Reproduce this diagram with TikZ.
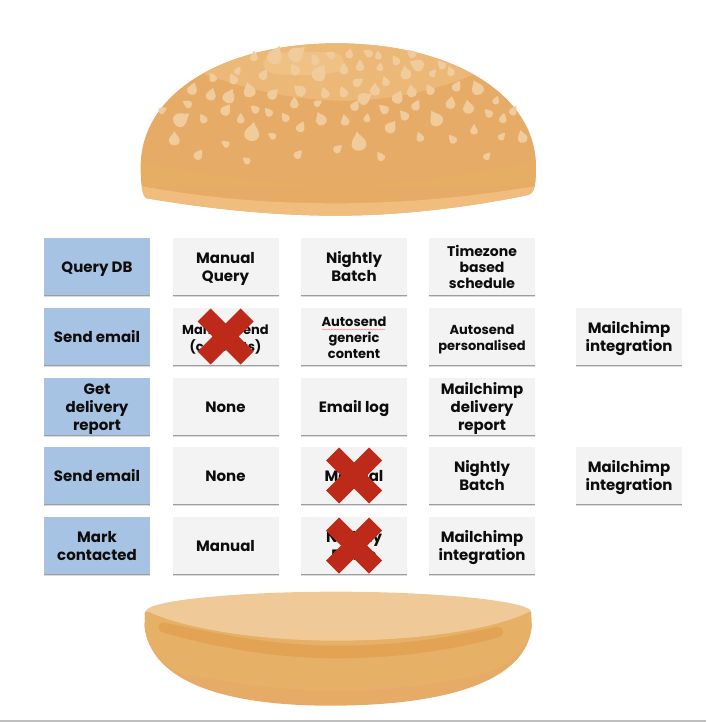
\documentclass[tikz,border=0pt]{standalone}
\usepackage{fontspec}
\setmainfont{Poppins}
\usetikzlibrary{shadows,decorations.pathmorphing}
\definecolor{bunbase}{HTML}{E6AB66}
\definecolor{bunband}{HTML}{E6AD64}
\definecolor{bunlight}{HTML}{EBB878}
\definecolor{bunglow}{HTML}{EFC184}
\definecolor{bunrim}{HTML}{F0BD7F}
\definecolor{seedcol}{HTML}{F0CB9C}
\definecolor{bowlcol}{HTML}{E6B066}
\definecolor{lidcol}{HTML}{F0C998}
\definecolor{creasecol}{HTML}{E2A355}
\definecolor{stepblue}{HTML}{A7C3E4}
\definecolor{optgrey}{HTML}{F3F3F3}
\definecolor{crossred}{HTML}{BE2A1A}
\newcommand{\cardtext}[1]{\raisebox{-6pt}[0pt][0pt]{\begin{tabular}{@{}c@{}}#1\end{tabular}}}
\tikzset{
  card/.style={minimum width=106pt, minimum height=57pt, inner sep=0pt,
    font=\bfseries\fontsize{15}{18}\selectfont, text=black!95,
    drop shadow={shadow xshift=0pt, shadow yshift=-2.2pt, fill=black, opacity=.14},
    drop shadow={shadow xshift=0pt, shadow yshift=-1.2pt, fill=black, opacity=.28}},
  stepcard/.style={card, fill=stepblue},
  optcard/.style={card, fill=optgrey},
  smalltext/.style={font=\bfseries\fontsize{13}{16}\selectfont},
  tighttext/.style={font=\bfseries\fontsize{14}{16}\selectfont},
  redcross/.pic={\fill[crossred] (0,-13) -- (15,-28) -- (28,-15) -- (13,0) -- (28,15) -- (15,28)
    -- (0,13) -- (-15,28) -- (-28,15) -- (-13,0) -- (-28,-15) -- (-15,-28) -- cycle;}
}
\begin{document}
\begin{tikzpicture}[x=1pt, y=-1pt]
  \useasboundingbox (0,0) rectangle (706,722);
  % top bun
  \begin{scope}[shift={(130,30)}, scale=1/3]
    \begin{scope}
      \clip (50,505) .. controls (38,500) and (32,470) .. (32,410)
        .. controls (32,190) and (280,40) .. (620,40)
        .. controls (960,40) and (1218,190) .. (1218,410)
        .. controls (1218,470) and (1212,490) .. (1195,495)
        .. controls (1000,535) and (800,557) .. (620,557)
        .. controls (420,557) and (230,535) .. (50,505) -- cycle;
      \fill[bunbase] (0,0) rectangle (1260,600);
      \fill[bunband] (34,395) .. controls (250,440) and (450,465) .. (620,465)
        .. controls (800,465) and (1000,440) .. (1216,390) -- (1216,470)
        -- (38,470) -- cycle;
      \fill[bunrim] (20,466) .. controls (230,505) and (420,520) .. (620,520)
        .. controls (800,520) and (1000,505) .. (1230,466) -- (1230,600) -- (20,600) -- cycle;
      \fill[bunlight] (190,120) .. controls (320,170) and (480,212) .. (640,212)
        .. controls (780,212) and (930,180) .. (1050,125) -- (1050,0) -- (190,0) -- cycle;
    \end{scope}
    \fill[bunglow] (430,72) .. controls (480,62) and (570,62) .. (625,72)
      .. controls (645,80) and (648,115) .. (625,125)
      .. controls (570,138) and (480,138) .. (425,130)
      .. controls (392,118) and (390,85) .. (430,72) -- cycle;
    % seeds
    \foreach \sx/\sy/\sa/\ss in {372/80/0/.8, 435/78/-25/1.5, 500/72/-50/1.5, 555/90/20/.9, 603/75/70/.8,
      658/72/-10/.8, 715/70/60/.8, 745/77/10/.7, 845/72/50/.8, 495/120/30/1, 400/135/-30/.9,
      568/130/-30/1.4, 642/118/0/.9, 690/108/0/.9, 750/112/-10/.7, 798/92/30/.8, 862/105/65/1.2,
      935/105/40/.8, 962/125/20/.8, 908/130/-40/.7, 827/130/10/1.1, 683/157/-60/.9, 767/155/20/.8,
      323/123/-30/.7, 248/143/30/.8, 310/148/25/.9, 187/178/-20/1, 243/195/-15/1, 297/200/-25/1.2,
      358/182/15/1.2, 428/193/-45/1, 510/182/50/1.1, 585/190/20/.9, 640/187/20/.9, 735/180/0/1,
      703/205/-60/1.2, 845/185/10/1, 900/180/30/.9, 980/170/-30/.9, 1042/175/25/1.2, 803/203/-25/1.1,
      493/220/0/.9, 563/220/-60/.7, 675/228/-30/.9, 858/227/-25/.9, 962/220/-10/1, 1015/233/10/1.1,
      1098/212/-20/.7, 1150/243/-30/.8, 173/222/60/.8, 97/241/-60/.7, 153/268/-55/1.4, 220/267/30/.8,
      287/241/-35/1, 332/267/0/.8, 375/238/50/.8, 416/247/40/.8, 466/263/35/.8, 573/268/25/1.1,
      645/272/10/.9, 711/265/-10/.7, 762/238/50/.9, 823/257/40/.9, 918/267/30/1.3, 1076/250/45/.8,
      1119/266/-10/.8, 1032/300/0/.8, 1177/322/15/1, 1115/320/-40/.7, 512/292/-25/.9, 782/292/-35/1.1,
      366/308/-10/1.5, 427/318/60/.7, 133/328/0/1.1, 287/342/60/.7, 686/337/10/1.5, 870/322/20/.8,
      968/328/40/.8, 205/375/-35/.9, 350/392/50/.7, 504/374/-40/.8, 623/357/-50/.8, 752/380/35/.8,
      1071/379/-40/.7}
      \fill[seedcol, shift={(\sx,\sy)}, rotate=\sa, scale=\ss] (0,-22) .. controls (4,-12) and (15,-7) .. (15,4)
        .. controls (15,21) and (-15,21) .. (-15,4) .. controls (-15,-7) and (-4,-12) .. (0,-22) -- cycle;
  \end{scope}
  % step column
  \node[stepcard] (query) at (97,266.5) {\cardtext{Query DB}};
  \node[stepcard] (send) at (97,336.5) {\cardtext{Send email}};
  \node[stepcard] (report) at (97,406.5) {\cardtext{Get\\delivery\\report}};
  \node[stepcard] (resend) at (97,475.5) {\cardtext{Send email}};
  \node[stepcard] (mark) at (97,545.5) {\cardtext{Mark\\contacted}};
  % options
  \node[optcard] (manualquery) at (225.5,266.5) {\cardtext{Manual\\Query}};
  \node[optcard] (nightlyquery) at (354,266.5) {\cardtext{Nightly\\Batch}};
  \node[optcard, tighttext] (timezone) at (482,266.5) {\cardtext{Timezone\\based\\schedule}};
  \node[optcard, smalltext] (manualsend) at (225.5,336.5) {\cardtext{Manual send\\(contacts)}};
  \node[optcard, smalltext] (generic) at (354,336.5) {\cardtext{Autosend\\generic\\content}};
  \node[optcard, smalltext] (personal) at (482,336.5) {\cardtext{Autosend\\personalised}};
  \node[optcard] (mailsend) at (629,336.5) {\cardtext{Mailchimp\\integration}};
  \node[optcard] (noreport) at (225.5,406.5) {\cardtext{None}};
  \node[optcard] (emaillog) at (354,406.5) {\cardtext{Email log}};
  \node[optcard] (mailreport) at (482,406.5) {\cardtext{Mailchimp\\delivery\\report}};
  \node[optcard] (noresend) at (225.5,475.5) {\cardtext{None}};
  \node[optcard] (manualresend) at (354,475.5) {\cardtext{Manual}};
  \node[optcard] (nightlyresend) at (482,475.5) {\cardtext{Nightly\\Batch}};
  \node[optcard] (mailresend) at (629,475.5) {\cardtext{Mailchimp\\integration}};
  \node[optcard] (manualmark) at (225.5,545.5) {\cardtext{Manual}};
  \node[optcard] (nightlymark) at (354,545.5) {\cardtext{Nightly\\Batch}};
  \node[optcard] (mailmark) at (482,545.5) {\cardtext{Mailchimp\\integration}};
  % spelling mark
  \draw[red!45, line width=.5pt, decorate, decoration={snake, amplitude=.5pt, segment length=3pt}]
    (322,329.5) -- (385,329.5);
  % crosses
  \pic at (manualsend) {redcross};
  \pic at (manualresend) {redcross};
  \pic at (nightlymark) {redcross};
  % bottom bun
  \begin{scope}[shift={(130,580)}, scale=1/3]
    \fill[bunbase] (45,95) -- (44,140) .. controls (60,290) and (250,377) .. (600,377)
      .. controls (960,377) and (1190,300) .. (1205,140) -- (1203,95) -- cycle;
    \fill[bowlcol] (45,95) -- (44,140) .. controls (50,200) and (90,250) .. (150,280)
      .. controls (350,320) and (500,332) .. (620,332)
      .. controls (800,332) and (950,310) .. (1080,275)
      .. controls (1160,240) and (1200,190) .. (1205,140) -- (1203,95) -- cycle;
    \fill[creasecol] (100,127) .. controls (300,170) and (450,197) .. (620,197)
      .. controls (800,197) and (950,175) .. (1100,140)
      .. controls (1125,145) and (1125,165) .. (1105,172)
      .. controls (950,215) and (780,235) .. (620,235)
      .. controls (430,235) and (250,200) .. (100,158)
      .. controls (80,150) and (80,130) .. (100,127) -- cycle;
    \fill[lidcol] (48,92) .. controls (60,60) and (330,35) .. (620,35)
      .. controls (900,35) and (1180,60) .. (1203,92)
      .. controls (1100,150) and (850,182) .. (620,182)
      .. controls (400,182) and (170,150) .. (48,92) -- cycle;
  \end{scope}
  % page edge
  \fill[black!25] (0,720) rectangle (706,722);
\end{tikzpicture}
\end{document}
